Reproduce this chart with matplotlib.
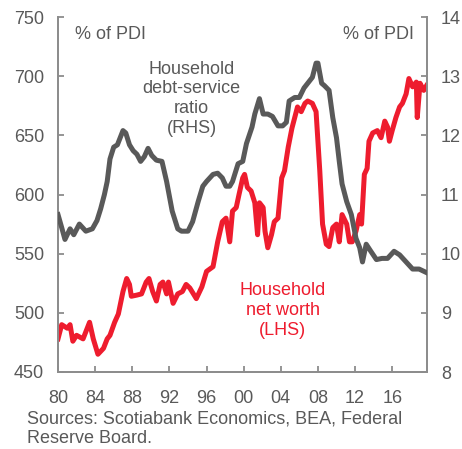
import matplotlib
matplotlib.use("Agg")
import matplotlib.pyplot as plt

plt.rcParams['font.family'] = ['Liberation Sans', 'DejaVu Sans']

# Household debt-service ratio (% of PDI, RHS)
dsr_years = [1980.0, 1980.4, 1980.75, 1981.3, 1981.7, 1982.3, 1983.0, 1983.7, 1984.2, 1984.6,
             1985.0, 1985.3, 1985.6, 1986.0, 1986.4, 1986.8, 1987.0, 1987.3, 1987.7, 1988.1,
             1988.5, 1988.9, 1989.3, 1989.7, 1990.1, 1990.6, 1991.2, 1991.7, 1992.3, 1992.9,
             1993.3, 1994.0, 1994.5, 1995.1, 1995.6, 1996.0, 1996.7, 1997.2, 1997.7, 1998.1,
             1998.5, 1998.8, 1999.4, 1999.9, 2000.3, 2000.9, 2001.2, 2001.7, 2002.1, 2002.6,
             2003.1, 2003.7, 2004.2, 2004.6, 2004.9, 2005.5, 2006.0, 2006.5, 2006.9, 2007.4,
             2007.8, 2008.0, 2008.4, 2008.7, 2009.2, 2009.6, 2010.0, 2010.3, 2010.6, 2011.1,
             2011.6, 2012.1, 2012.5, 2012.8, 2013.2, 2013.7, 2014.3, 2014.9, 2015.5, 2016.2,
             2016.8, 2017.5, 2018.2, 2018.9, 2019.7]
dsr_values = [10.66, 10.44, 10.24, 10.42, 10.32, 10.50, 10.38, 10.42, 10.56, 10.76,
              11.00, 11.22, 11.60, 11.80, 11.84, 12.00, 12.08, 12.04, 11.84, 11.74,
              11.68, 11.56, 11.64, 11.78, 11.66, 11.58, 11.56, 11.22, 10.72, 10.42,
              10.38, 10.38, 10.54, 10.88, 11.14, 11.22, 11.34, 11.36, 11.28, 11.14,
              11.14, 11.22, 11.52, 11.56, 11.86, 12.14, 12.36, 12.62, 12.36, 12.36,
              12.32, 12.16, 12.16, 12.22, 12.58, 12.64, 12.64, 12.80, 12.88, 12.98,
              13.22, 13.22, 12.88, 12.84, 12.76, 12.30, 11.96, 11.56, 11.18, 10.88,
              10.66, 10.26, 10.10, 9.86, 10.16, 10.04, 9.90, 9.92, 9.92, 10.04,
              9.98, 9.86, 9.74, 9.74, 9.68]

# Household net worth (% of PDI, LHS)
nw_years = [1980.0, 1980.4, 1981.0, 1981.3, 1981.6, 1982.0, 1982.7, 1983.4, 1983.8, 1984.3,
            1984.9, 1985.3, 1985.6, 1986.1, 1986.5, 1987.0, 1987.4, 1987.7, 1987.9, 1988.5,
            1989.0, 1989.5, 1989.8, 1990.2, 1990.6, 1991.0, 1991.3, 1991.7, 1991.9, 1992.4,
            1992.9, 1993.4, 1993.8, 1994.2, 1994.9, 1995.5, 1996.0, 1996.7, 1997.2, 1997.7,
            1998.1, 1998.5, 1998.8, 1999.2, 1999.5, 1999.9, 2000.1, 2000.4, 2000.8, 2001.2,
            2001.5, 2001.7, 2002.1, 2002.3, 2002.6, 2003.0, 2003.3, 2003.7, 2004.1, 2004.4,
            2004.8, 2005.2, 2005.5, 2005.8, 2006.2, 2006.6, 2006.9, 2007.4, 2007.8, 2008.2,
            2008.5, 2008.9, 2009.2, 2009.6, 2010.0, 2010.3, 2010.6, 2011.1, 2011.4, 2011.7,
            2012.1, 2012.5, 2012.7, 2013.0, 2013.3, 2013.5, 2013.9, 2014.4, 2014.8, 2015.2,
            2015.5, 2015.7, 2016.0, 2016.4, 2016.8, 2017.1, 2017.5, 2017.8, 2018.2, 2018.6,
            2018.7, 2019.0, 2019.4, 2019.7]
nw_values = [478, 490, 487, 490, 476, 481, 478, 492, 478, 465,
             470, 478, 481, 492, 499, 518, 529, 524, 514, 515,
             516, 526, 529, 518, 510, 524, 526, 516, 526, 508,
             516, 518, 524, 521, 512, 522, 535, 539, 560, 577,
             580, 560, 586, 589, 600, 614, 617, 606, 603, 593,
             566, 593, 589, 569, 555, 566, 577, 580, 614, 620,
             640, 656, 665, 674, 670, 677, 679, 677, 670, 620,
             575, 558, 556, 572, 575, 560, 583, 575, 560, 560,
             569, 583, 575, 617, 622, 645, 652, 654, 648, 662,
             657, 645, 654, 665, 674, 677, 685, 698, 691, 695,
             665, 694, 688, 692]

x_ticks = [1980, 1984, 1988, 1992, 1996, 2000, 2004, 2008, 2012, 2016]
x_labels = ['80', '84', '88', '92', '96', '00', '04', '08', '12', '16']
left_ticks = [450, 500, 550, 600, 650, 700, 750]
right_ticks = [8, 9, 10, 11, 12, 13, 14]

GRAY = '#595959'
AX = '#8c8c8c'
RED = '#ee1c2e'
TXT = '#595959'
FS = 13

fig = plt.figure(figsize=(4.62, 4.49), dpi=100)
ax = fig.add_axes([58 / 462, 1 - 372 / 449, (427 - 58) / 462, (372 - 17) / 449])
ax2 = ax.twinx()

ax.plot(nw_years, nw_values, color=RED, lw=3.6, solid_joinstyle='round', zorder=2)
ax2.plot(dsr_years, dsr_values, color=GRAY, lw=3.6, solid_joinstyle='round', zorder=3)

ax.set_xlim(1980, 2019.75)
ax.set_ylim(450, 750)
ax2.set_ylim(8, 14)
ax.set_xticks(x_ticks)
ax.set_xticklabels(x_labels)
ax.set_yticks(left_ticks)
ax2.set_yticks(right_ticks)

for a in (ax, ax2):
    a.spines['top'].set_visible(False)
    for s in ('left', 'right', 'bottom'):
        a.spines[s].set_color(AX)
        a.spines[s].set_linewidth(1.3)
    a.tick_params(direction='in', length=4, width=1.3, color=AX, labelcolor=TXT, labelsize=FS)
ax.tick_params(axis='y', pad=10)
ax.tick_params(axis='x', pad=13)
ax2.tick_params(axis='y', pad=10)

ax.text(1981.8, 735, '% of PDI', color=TXT, fontsize=FS, ha='left', va='center')
ax.text(2018.3, 735, '% of PDI', color=TXT, fontsize=FS, ha='right', va='center')
ax.text(1994.4, 681, 'Household\ndebt-service\nratio\n(RHS)', color=TXT, fontsize=FS,
        ha='center', va='center', linespacing=1.2)
ax.text(2004.2, 502, 'Household\nnet worth\n(LHS)', color=RED, fontsize=FS,
        ha='center', va='center', linespacing=1.2)

fig.text(27 / 462, 1 - 429 / 449, 'Sources: Scotiabank Economics, BEA, Federal\nReserve Board.',
         color=TXT, fontsize=FS, ha='left', va='center', linespacing=1.2)

fig.savefig('out.png', dpi=100)
